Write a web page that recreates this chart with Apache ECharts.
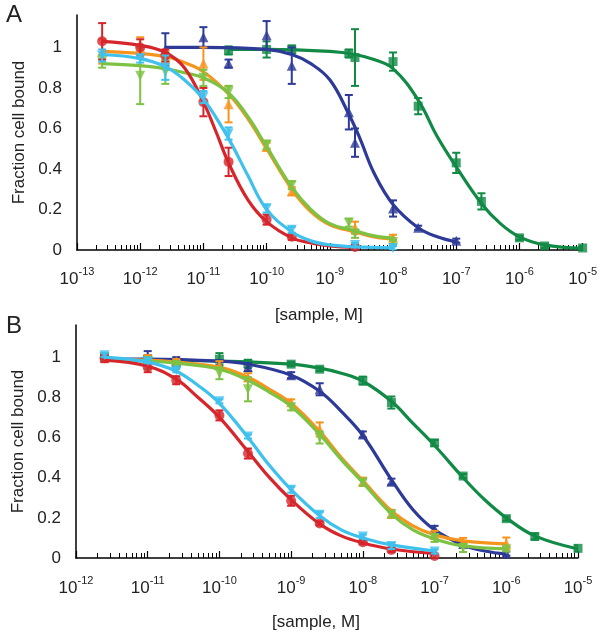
<!DOCTYPE html>
<html>
<head>
<meta charset="utf-8">
<script src="https://cdn.jsdelivr.net/npm/echarts@6.0.0/dist/echarts.min.js"></script>
<style>
html, body { margin: 0; padding: 0; background: #fff; }
#chart { width: 600px; height: 632px; }
</style>
</head>
<body>
<div id="chart"></div>
<script>
// panel A measured points: [concentration M, fraction bound, error]
var aRed = [[2.5e-13,1.03,0.09],[1e-12,1.0,0.04],[2.5e-12,0.96,0.03],[1e-11,0.73,0.07],[2.5e-11,0.435,0.07],[1e-10,0.15,0.025],[2.5e-10,0.065,0.015],[2.5e-9,0.015,0.01]];
var aOrange = [[2.5e-13,0.98,0.06],[1e-12,1.0,0.05],[2.5e-12,0.95,0.03],[1e-11,0.92,0.08],[2.5e-11,0.72,0.09],[1e-10,0.51,0.02],[2.5e-10,0.29,0.02],[2.5e-9,0.11,0.03],[1e-8,0.06,0.015]];
var aLgreen = [[2.5e-13,0.93,0.03],[1e-12,0.86,0.14],[2.5e-12,0.88,0.06],[1e-11,0.85,0.04],[2.5e-11,0.78,0.03],[1e-10,0.52,0.02],[2.5e-10,0.32,0.02],[2e-9,0.135,0.02],[2.5e-9,0.08,0.02],[1e-8,0.04,0.01]];
var aCyan = [[2.5e-13,0.96,0.03],[1e-12,0.945,0.02],[2.5e-12,0.9,0.06],[1e-11,0.755,0.03],[2.5e-11,0.575,0.03],[1e-10,0.205,0.02],[2.5e-10,0.1,0.015],[2.5e-9,0.025,0.01],[1e-8,0.01,0.01]];
var aBlue = [[2.5e-12,0.99,0.08],[1e-11,1.05,0.05],[2.5e-11,0.92,0.02],[1e-10,1.06,0.07],[2.5e-10,0.91,0.09],[2e-9,0.68,0.085],[2.5e-9,0.53,0.07],[1e-8,0.205,0.04],[2.5e-8,0.11,0.01],[1e-7,0.046,0.01]];
var aDgreen = [[2.5e-11,0.985,0.02],[1e-10,0.99,0.04],[2.5e-10,0.99,0.02],[2e-9,0.97,0.02],[2.5e-9,0.95,0.14],[1e-8,0.93,0.045],[2.5e-8,0.71,0.04],[1e-7,0.43,0.05],[2.5e-7,0.24,0.04],[1e-6,0.06,0.01],[2.5e-6,0.02,0.01],[1e-5,0.01,0.01]];

// panel A fitted curves
var aRedFit = [[2.5e-13,1.03],[1e-12,1.01],[2.5e-12,0.975],[5e-12,0.9],[1e-11,0.73],[1.6e-11,0.58],[2.5e-11,0.43],[5e-11,0.25],[1e-10,0.14],[2.5e-10,0.06],[5e-10,0.035],[1e-9,0.02],[2.5e-9,0.012]];
var aOrangeFit = [[2.5e-13,0.98],[1e-12,0.97],[2.5e-12,0.955],[5e-12,0.925],[1e-11,0.88],[2.5e-11,0.77],[5e-11,0.65],[1e-10,0.5],[2.5e-10,0.3],[5e-10,0.19],[1e-9,0.125],[2.5e-9,0.09],[5e-9,0.065],[1e-8,0.055]];
var aLgreenFit = [[2.5e-13,0.92],[1e-12,0.91],[2.5e-12,0.895],[5e-12,0.875],[1e-11,0.85],[2.5e-11,0.775],[5e-11,0.66],[1e-10,0.51],[2.5e-10,0.31],[5e-10,0.2],[1e-9,0.13],[2.5e-9,0.095],[5e-9,0.07],[1e-8,0.06]];
var aCyanFit = [[2.5e-13,0.965],[1e-12,0.945],[2.5e-12,0.905],[5e-12,0.84],[1e-11,0.745],[2.5e-11,0.55],[5e-11,0.37],[1e-10,0.2],[2.5e-10,0.09],[5e-10,0.045],[1e-9,0.025],[2.5e-9,0.015],[1e-8,0.01]];
var aBlueFit = [[2.5e-12,1.0],[1e-11,1.0],[1e-10,0.99],[2.5e-10,0.965],[5e-10,0.92],[1e-9,0.84],[2e-9,0.67],[3e-9,0.55],[5e-9,0.38],[1e-8,0.225],[2.5e-8,0.11],[5e-8,0.065],[1e-7,0.04]];
var aDgreenFit = [[2.5e-11,0.99],[1e-10,0.99],[1e-9,0.98],[2.5e-9,0.965],[5e-9,0.94],[1e-8,0.895],[2.5e-8,0.74],[5e-8,0.56],[1e-7,0.41],[2.5e-7,0.23],[5e-7,0.13],[1e-6,0.065],[2.5e-6,0.025],[1e-5,0.008]];

// panel B measured points
var bRed = [[2.5e-12,0.995,0.02],[1e-11,0.95,0.025],[2.5e-11,0.885,0.02],[1e-10,0.71,0.025],[2.5e-10,0.52,0.025],[1e-9,0.285,0.025],[2.5e-9,0.172,0.01],[1e-8,0.078,0.01],[2.5e-8,0.04,0.01],[1e-7,0.01,0.01]];
var bOrange = [[2.5e-12,1.0,0.02],[1e-11,0.99,0.02],[2.5e-11,0.98,0.01],[1e-10,0.96,0.02],[2.5e-10,0.9,0.02],[1e-9,0.775,0.015],[2.5e-9,0.64,0.035],[1e-8,0.38,0.02],[2.5e-8,0.22,0.02],[1e-7,0.115,0.02],[2.5e-7,0.08,0.02],[1e-6,0.072,0.03]];
var bLgreen = [[2.5e-12,1.0,0.02],[1e-11,0.97,0.03],[2.5e-11,0.96,0.02],[1e-10,0.92,0.03],[2.5e-10,0.84,0.06],[1e-9,0.75,0.015],[2.5e-9,0.6,0.03],[1e-8,0.376,0.015],[2.5e-8,0.217,0.015],[1e-7,0.1,0.02],[2.5e-7,0.05,0.02],[1e-6,0.043,0.01]];
var bCyan = [[2.5e-12,1.01,0.01],[1e-11,0.98,0.01],[2.5e-11,0.935,0.01],[1e-10,0.78,0.01],[2.5e-10,0.605,0.01],[1e-9,0.34,0.015],[2.5e-9,0.215,0.015],[1e-8,0.107,0.01],[2.5e-8,0.06,0.015],[1e-7,0.032,0.01]];
var bBlue = [[2.5e-12,1.0,0.015],[1e-11,1.0,0.03],[2.5e-11,0.98,0.02],[1e-10,0.965,0.02],[2.5e-10,0.95,0.02],[1e-9,0.91,0.015],[2.5e-9,0.84,0.03],[1e-8,0.615,0.015],[2.5e-8,0.38,0.015],[1e-7,0.145,0.015],[2.5e-7,0.07,0.01],[1e-6,0.022,0.01]];
var bDgreen = [[2.5e-12,1.0,0.015],[1e-11,0.99,0.02],[2.5e-11,0.97,0.015],[1e-10,0.99,0.03],[2.5e-10,0.967,0.02],[1e-9,0.965,0.01],[2.5e-9,0.94,0.01],[1e-8,0.883,0.02],[2.5e-8,0.774,0.03],[1e-7,0.573,0.015],[2.5e-7,0.408,0.01],[1e-6,0.196,0.01],[2.5e-6,0.107,0.015],[1e-5,0.048,0.015]];

// panel B fitted curves
var bRedFit = [[2.5e-12,0.985],[1e-11,0.955],[2.5e-11,0.89],[5e-11,0.8],[1e-10,0.7],[2.5e-10,0.53],[5e-10,0.4],[1e-9,0.29],[2.5e-9,0.17],[5e-9,0.11],[1e-8,0.075],[2.5e-8,0.045],[1e-7,0.022]];
var bOrangeFit = [[2.5e-12,0.99],[1e-11,0.985],[2.5e-11,0.975],[1e-10,0.95],[2.5e-10,0.9],[5e-10,0.84],[1e-9,0.77],[2.5e-9,0.63],[5e-9,0.5],[1e-8,0.385],[2.5e-8,0.235],[5e-8,0.16],[1e-7,0.115],[2.5e-7,0.085],[1e-6,0.07]];
var bLgreenFit = [[2.5e-12,0.99],[1e-11,0.98],[2.5e-11,0.97],[1e-10,0.94],[2.5e-10,0.885],[5e-10,0.825],[1e-9,0.755],[2.5e-9,0.615],[5e-9,0.49],[1e-8,0.375],[2.5e-8,0.22],[5e-8,0.14],[1e-7,0.095],[2.5e-7,0.06],[1e-6,0.045]];
var bCyanFit = [[2.5e-12,1.0],[1e-11,0.975],[2.5e-11,0.93],[5e-11,0.86],[1e-10,0.77],[2.5e-10,0.6],[5e-10,0.46],[1e-9,0.34],[2.5e-9,0.21],[5e-9,0.14],[1e-8,0.1],[2.5e-8,0.065],[1e-7,0.035]];
var bBlueFit = [[2.5e-12,0.99],[1e-11,0.99],[1e-10,0.98],[2.5e-10,0.965],[1e-9,0.91],[2.5e-9,0.83],[5e-9,0.73],[1e-8,0.61],[2.5e-8,0.39],[5e-8,0.24],[1e-7,0.14],[2.5e-7,0.065],[5e-7,0.035],[1e-6,0.02]];
var bDgreenFit = [[2.5e-12,0.99],[1e-11,0.985],[1e-10,0.98],[1e-9,0.965],[2.5e-9,0.945],[5e-9,0.92],[1e-8,0.88],[2.5e-8,0.78],[5e-8,0.67],[1e-7,0.56],[2.5e-7,0.4],[5e-7,0.29],[1e-6,0.2],[2.5e-6,0.11],[1e-5,0.045]];

// draw order: back to front
var colors  = ['#108a45', '#2d3a97', '#f7941e', '#7dc243', '#d6262c', '#3fc1ee'];
var symbols = ['rect', 'triangle', 'triangle', 'triangle', 'circle', 'triangle'];
var rotates = [0, 0, 0, 180, 0, 180];
var aPoints = [aDgreen, aBlue, aOrange, aLgreen, aRed, aCyan];
var aFits   = [aDgreenFit, aBlueFit, aOrangeFit, aLgreenFit, aRedFit, aCyanFit];
var bPoints = [bDgreen, bBlue, bOrange, bLgreen, bRed, bCyan];
var bFits   = [bDgreenFit, bBlueFit, bOrangeFit, bLgreenFit, bRedFit, bCyanFit];

var font = 'Liberation Sans, Arial, sans-serif';

function errorBar(params, api) {
    var x = api.value(0), y = api.value(1), e = api.value(2);
    var hi = api.coord([x, y + e]);
    var lo = api.coord([x, y - e]);
    var w = 4;
    var st = { stroke: api.visual('color'), lineWidth: 2 };
    return {
        type: 'group',
        children: [
            { type: 'line', shape: { x1: hi[0], y1: hi[1], x2: lo[0], y2: lo[1] }, style: st },
            { type: 'line', shape: { x1: hi[0] - w, y1: hi[1], x2: hi[0] + w, y2: hi[1] }, style: st },
            { type: 'line', shape: { x1: lo[0] - w, y1: lo[1], x2: lo[0] + w, y2: lo[1] }, style: st }
        ]
    };
}

function panelSeries(idx, points, fits) {
    var out = [];
    for (var i = 0; i < colors.length; i++) {
        out.push({
            type: 'line', xAxisIndex: idx, yAxisIndex: idx,
            data: fits[i], smooth: 0.4,
            showSymbol: false, symbol: 'none',
            lineStyle: { color: colors[i], width: 3.2 },
            z: 2 + i
        });
        out.push({
            type: 'custom', xAxisIndex: idx, yAxisIndex: idx,
            data: points[i], renderItem: errorBar,
            itemStyle: { color: colors[i] },
            encode: { x: 0, y: 1 },
            clip: true,
            z: 2 + i
        });
        out.push({
            type: 'scatter', xAxisIndex: idx, yAxisIndex: idx,
            data: points[i].map(function (p) { return [p[0], p[1]]; }),
            symbol: symbols[i], symbolRotate: rotates[i],
            symbolSize: symbols[i] === 'rect' ? 9 : 10,
            itemStyle: { color: colors[i] },
            z: 2 + i
        });
    }
    return out;
}

function xAxisOpt(idx, min, max, gap, margin) {
    return {
        type: 'log', logBase: 10, gridIndex: idx, min: min, max: max,
        name: '[sample, M]', nameLocation: 'middle', nameGap: gap,
        nameTextStyle: { fontFamily: font, fontSize: 17, color: '#222', padding: [0, 22, 0, 0] },
        axisLine: { lineStyle: { color: '#000', width: 1.5 } },
        axisTick: { inside: true, length: 7, lineStyle: { color: '#000', width: 1.2 } },
        minorTick: { show: true, splitNumber: 9, length: 5, lineStyle: { color: '#000', width: 1 } },
        splitLine: { show: false },
        axisLabel: {
            margin: margin,
            formatter: function (v) {
                return '{b|10}{s|' + Math.round(Math.log10(v)) + '}';
            },
            rich: {
                b: { fontFamily: font, fontSize: 17, color: '#222', lineHeight: 22, verticalAlign: 'bottom' },
                s: { fontFamily: font, fontSize: 11, color: '#222', lineHeight: 22, verticalAlign: 'top' }
            }
        }
    };
}

function yAxisOpt(idx) {
    return {
        type: 'value', gridIndex: idx, min: 0, max: 1.16, interval: 0.2,
        name: 'Fraction cell bound', nameLocation: 'middle', nameGap: 44, nameRotate: 90,
        nameTextStyle: { fontFamily: font, fontSize: 17, color: '#222' },
        axisLine: { show: true, lineStyle: { color: '#000', width: 1.5 } },
        axisTick: { show: false },
        splitLine: { show: false },
        axisLabel: {
            margin: 15, fontFamily: font, fontSize: 17, color: '#222',
            formatter: function (v) { return v > 1.01 ? '' : String(Math.round(v * 10) / 10); }
        }
    };
}

var chart = echarts.init(document.getElementById('chart'));
chart.setOption({
    animation: false,
    backgroundColor: '#fff',
    title: [
        { text: 'A', left: 1, top: -2, textStyle: { fontFamily: font, fontSize: 24, fontWeight: 'normal', color: '#222' } },
        { text: 'B', left: 1, top: 309, textStyle: { fontFamily: font, fontSize: 24, fontWeight: 'normal', color: '#222' } }
    ],
    grid: [
        { left: 77, top: 15, width: 507, height: 235 },
        { left: 76, top: 325, width: 502, height: 240 }
    ],
    xAxis: [xAxisOpt(0, 1e-13, 1e-5, 57, 16), xAxisOpt(1, 1e-12, 1e-5, 56, 17)],
    yAxis: [yAxisOpt(0), yAxisOpt(1)],
    series: panelSeries(0, aPoints, aFits).concat(panelSeries(1, bPoints, bFits))
});
</script>
</body>
</html>
